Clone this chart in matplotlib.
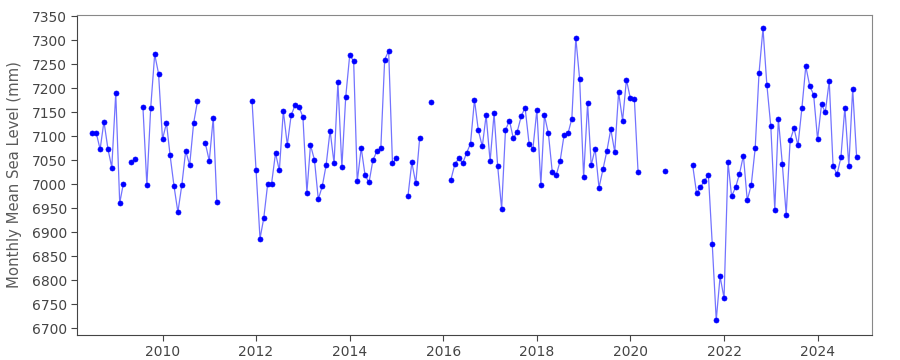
import matplotlib
matplotlib.use("Agg")
import matplotlib.pyplot as plt
import matplotlib.dates as mdates
import numpy as np
import pandas as pd

nan = np.nan

# monthly mean sea level (mm), Jul 2008 .. Nov 2024, nan = no data
y2008 = [7106, 7108, 7073, 7131, 7074, 7035]  # Jul-Dec
y2009 = [7190, 6961, 7001, nan, 7046, 7052, nan, 7162, 6998, 7160, 7271, 7231]
y2010 = [7094, 7128, 7061, 6996, 6942, 6999, 7070, 7040, 7128, 7173, nan, 7086]
y2011 = [7049, 7139, 6963, nan, nan, nan, nan, nan, nan, nan, nan, 7173]
y2012 = [7029, 6887, 6929, 7001, 7001, 7065, 7029, 7153, 7082, 7144, 7165, 7162]
y2013 = [7140, 6983, 7082, 7051, 6969, 6996, 7040, 7112, 7044, 7213, 7036, 7182]
y2014 = [7269, 7257, 7006, 7076, 7019, 7004, 7050, 7069, 7075, 7260, 7278, 7044]
y2015 = [7054, nan, nan, 6976, 7046, 7002, 7096, nan, nan, 7171, nan, nan]
y2016 = [nan, nan, 7010, 7042, 7054, 7044, 7065, 7085, 7176, 7113, 7079, 7144]
y2017 = [7048, 7148, 7038, 6949, 7113, 7133, 7096, 7110, 7142, 7160, 7085, 7074]
y2018 = [7155, 6999, 7144, 7106, 7026, 7019, 7048, 7102, 7106, 7137, 7305, 7219]
y2019 = [7015, 7169, 7040, 7074, 6993, 7032, 7069, 7115, 7067, 7192, 7133, 7218]
y2020 = [7179, 7178, 7025, nan, nan, nan, nan, nan, nan, 7028, nan, nan]
y2021 = [nan, nan, nan, nan, 7040, 6981, 6994, 7008, 7019, 6875, 6717, 6808]
y2022 = [6763, 7046, 6975, 6994, 7021, 7060, 6967, 6998, 7075, 7232, 7325, 7208]
y2023 = [7121, 6947, 7137, 7042, 6937, 7092, 7117, 7081, 7160, 7246, 7205, 7187]
y2024 = [7094, 7167, 7150, 7215, 7038, 7021, 7056, 7160, 7038, 7199, 7056]  # Jan-Nov

values = (y2008 + y2009 + y2010 + y2011 + y2012 + y2013 + y2014 + y2015 +
          y2016 + y2017 + y2018 + y2019 + y2020 + y2021 + y2022 + y2023 + y2024)
dates = pd.date_range("2008-07-01", periods=len(values), freq="MS")

fig = plt.figure(figsize=(9, 3.6), dpi=100)
ax = fig.add_axes([0.0859, 0.0694, 0.8833, 0.8903])

ax.plot(dates, values, "-", color="blue", alpha=0.55, lw=0.9)
ax.plot(dates, values, "o", color="blue", ms=3.6, mec="blue", mew=0.5)

ax.set_xlim(pd.Timestamp("2008-03-07"), pd.Timestamp("2025-03-03"))
ax.set_ylim(6686, 7354)
ax.set_yticks(np.arange(6700, 7351, 50))
ax.xaxis.set_major_locator(mdates.YearLocator(2))
ax.xaxis.set_major_formatter(mdates.DateFormatter("%Y"))

ax.set_ylabel("Monthly Mean Sea Level (mm)", fontsize=10.7, color="#5a5a5a",
              labelpad=7)
ax.tick_params(labelsize=10, colors="#444444", length=4, width=0.8)
for s in ["left", "bottom"]:
    ax.spines[s].set_color("#444444")
for s in ["top", "right"]:
    ax.spines[s].set_color("#888888")

fig.savefig("out.png", dpi=100)
